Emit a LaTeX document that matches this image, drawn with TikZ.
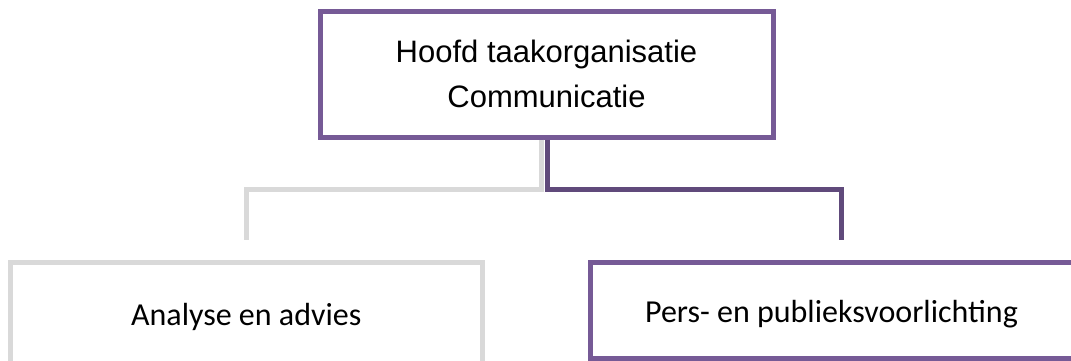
\documentclass[tikz,border=0pt]{standalone}
\usepackage{fontspec}
\setmainfont{Liberation Sans}
\newfontfamily\calibrifont{Carlito}
\definecolor{boxpurple}{HTML}{765A96}
\definecolor{linkpurple}{HTML}{604A7B}
\definecolor{boxgray}{HTML}{D9D9D9}
\tikzset{
  orgbox/.style={draw, line width=5pt, fill=none, inner sep=0pt, align=center},
  headbox/.style={orgbox, draw=boxpurple, minimum width=453pt, minimum height=126pt,
    font=\fontsize{31}{45}\selectfont},
  unitbox/.style={orgbox, font=\calibrifont\fontsize{32}{38}\selectfont,
    text height=25pt, text depth=1pt},
  link/.style={line width=5pt, line join=miter}
}
\begin{document}
\begin{tikzpicture}[x=1pt, y=-1pt]
  \useasboundingbox (0,0) rectangle (1071,360);
  \clip (0,0) rectangle (1071,360);

  % head of the organisation
  \node[headbox] (head) at (546.5,74) {Hoofd taakorganisatie\\Communicatie};

  % the two departments
  \node[unitbox, draw=boxgray, minimum width=471.5pt, minimum height=102pt]
    (analyse) at (246.25,313) {Analyse en advies};
  \node[unitbox, draw=boxpurple, minimum width=502pt, minimum height=96pt]
    (pers) at (841,310) {Pers- en publieksvoorlichting\hspace*{19pt}};

  % branch points and free ends of the connectors
  \coordinate (gbend) at (541,189);
  \coordinate (gend) at (246,240);
  \coordinate (pbend) at (547,189);
  \coordinate (pend) at (841,240);

  \draw[link, boxgray] (head.south -| gbend) -- (gbend) -| (gend);
  \draw[link, linkpurple] (head.south -| pbend) -- (pbend) -| (pend);
\end{tikzpicture}
\end{document}
